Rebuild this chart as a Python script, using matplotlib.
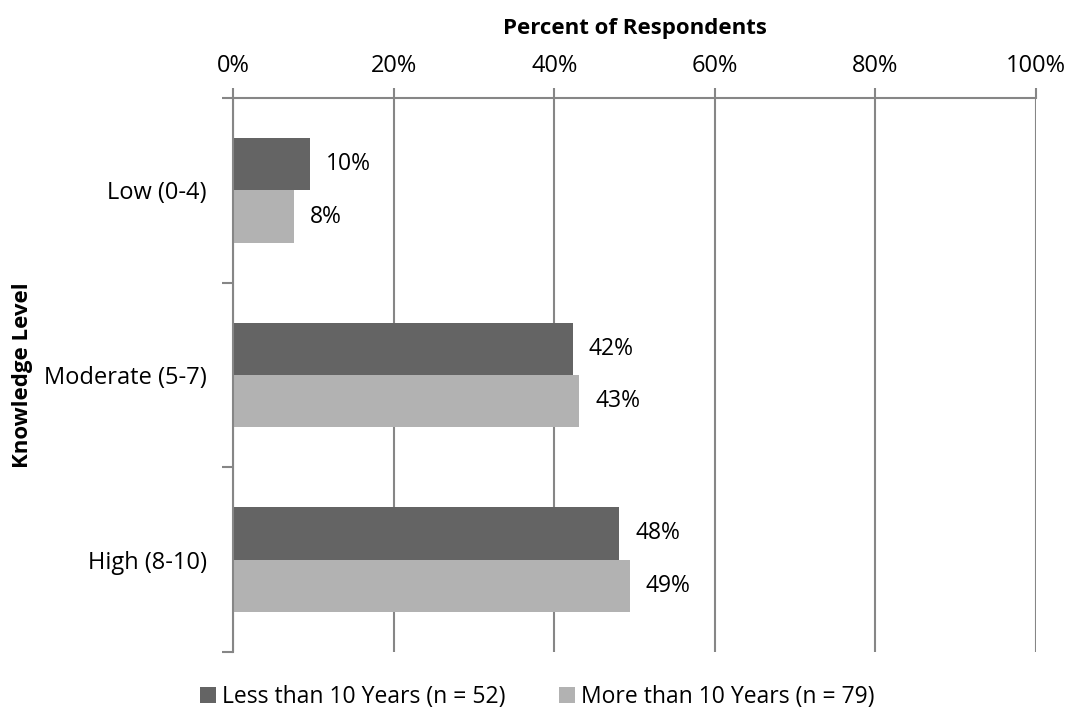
import matplotlib.pyplot as plt
import numpy as np

plt.rcParams['font.family'] = ['Open Sans', 'DejaVu Sans']

# Data
categories = ['Low (0-4)', 'Moderate (5-7)', 'High (8-10)']
less_10 = [9.6, 42.3, 48.1]
more_10 = [7.6, 43.1, 49.4]
less_labels = ['10%', '42%', '48%']
more_labels = ['8%', '43%', '49%']
series_names = ['Less than 10 Years (n = 52)', 'More than 10 Years (n = 79)']

dark = '#646464'
light = '#b2b2b2'
grid = '#868686'

fig = plt.figure(figsize=(10.68, 7.11), dpi=100)
ax = fig.add_axes([233 / 1068, 1 - 652 / 711, 803 / 1068, 554 / 711])

y = np.arange(len(categories))
h = 0.284
b1 = ax.barh(y - h / 2, less_10, height=h, color=dark, label=series_names[0])
b2 = ax.barh(y + h / 2, more_10, height=h, color=light, label=series_names[1])

for bars, labs in [(b1, less_labels), (b2, more_labels)]:
    for bar, lab in zip(bars, labs):
        ax.text(bar.get_width() + 2.0, bar.get_y() + bar.get_height() / 2, lab,
                va='center', ha='left', fontsize=16.5, color='black')

ax.set_xlim(0, 100)
ax.set_ylim(2.5, -0.5)
ax.xaxis.tick_top()
ax.xaxis.set_label_position('top')
ax.set_xticks(range(0, 101, 20))
ax.set_xticklabels([f'{v}%' for v in range(0, 101, 20)], fontsize=17)
ax.set_xlabel('Percent of Respondents', fontsize=16, fontweight='bold', labelpad=14)

# category labels in the middle, tick marks at the band edges
ax.set_yticks([-0.5, 0.5, 1.5, 2.5])
ax.set_yticklabels([])
ax.set_yticks(y, minor=True)
ax.set_yticklabels(categories, minor=True, fontsize=17)
ax.tick_params(axis='y', which='minor', length=0, pad=19)
ax.tick_params(axis='y', which='major', length=8, color=grid, width=1.5)
ax.tick_params(axis='x', length=7, color=grid, width=1.5, pad=7.5)
ax.set_ylabel('Knowledge Level', fontsize=16, fontweight='bold', labelpad=8)

ax.grid(axis='x', color=grid, linewidth=1.5)
ax.set_axisbelow(True)
for s in ['right', 'bottom']:
    ax.spines[s].set_visible(False)
for s in ['top', 'left']:
    ax.spines[s].set_color(grid)
    ax.spines[s].set_linewidth(1.5)

fig.legend(handles=[b1, b2], loc='center', bbox_to_anchor=(0.503, 1 - 697 / 711),
           ncol=2, frameon=False, fontsize=16.5, handlelength=0.7, handleheight=0.7,
           handletextpad=0.25, columnspacing=2.35, borderpad=0)

fig.savefig('out.png', dpi=100)
